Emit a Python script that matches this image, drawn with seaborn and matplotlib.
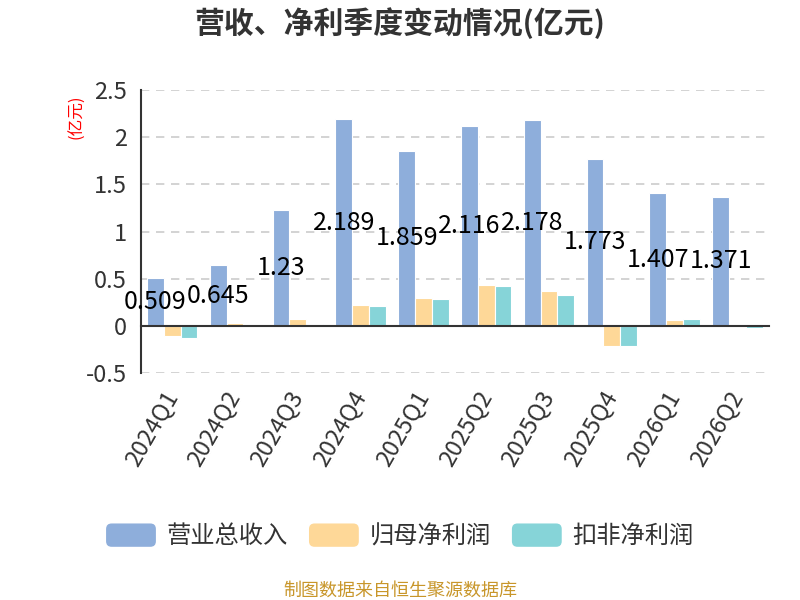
import matplotlib
matplotlib.use('Agg')
import matplotlib.pyplot as plt
import matplotlib.patches as mpatches
from matplotlib.legend_handler import HandlerPatch
from matplotlib.ticker import MultipleLocator, FixedLocator, FuncFormatter
import seaborn as sns
import pandas as pd

quarters = ['2024Q1', '2024Q2', '2024Q3', '2024Q4', '2025Q1',
            '2025Q2', '2025Q3', '2025Q4', '2026Q1', '2026Q2']
revenue = [0.509, 0.645, 1.23, 2.189, 1.859, 2.116, 2.178, 1.773, 1.407, 1.371]
net_profit = [-0.106, 0.03, 0.07, 0.226, 0.297, 0.434, 0.374, -0.215, 0.06, 0.005]
deducted_profit = [-0.13, 0.015, 0.02, 0.21, 0.29, 0.424, 0.328, -0.208, 0.07, -0.02]
series_names = ['营业总收入', '归母净利润', '扣非净利润']
colors = ['#8eaedb', '#fed898', '#86d4d8']

sns.set_style('white')
plt.rcParams['font.family'] = ['Noto Sans CJK SC', 'DejaVu Sans']
plt.rcParams['axes.unicode_minus'] = False


# rounded legend swatches
class RoundHandler(HandlerPatch):
    def create_artists(self, legend, orig_handle, xdescent, ydescent,
                       width, height, fontsize, trans):
        p = mpatches.FancyBboxPatch((-xdescent, -ydescent), width, height,
                                    boxstyle='round,pad=0,rounding_size=4',
                                    facecolor=orig_handle.get_facecolor(),
                                    edgecolor='none', transform=trans)
        return [p]


# long format for seaborn
df = pd.DataFrame({
    'quarter': quarters * 3,
    'series': [series_names[0]] * 10 + [series_names[1]] * 10 + [series_names[2]] * 10,
    'value': revenue + net_profit + deducted_profit,
})

fig = plt.figure(figsize=(8, 6), dpi=100)
ax = fig.add_axes([0.176, 0.378, 0.785, 0.472])

sns.barplot(data=df, x='quarter', y='value', hue='series', palette=colors,
            saturation=1, width=0.8, edgecolor='white', linewidth=0.8,
            ax=ax, legend=False)

ax.set_ylim(-0.5, 2.5)
ax.set_xlim(-0.5, len(quarters) - 0.5)
ax.yaxis.set_major_locator(MultipleLocator(0.5))
ax.yaxis.set_major_formatter(FuncFormatter(lambda v, p: f'{v:g}'))
ax.yaxis.grid(True, linestyle=(0, (5, 4)), color='#cccccc', linewidth=1.2)
ax.set_axisbelow(True)

# spines
for s in ['top', 'right']:
    ax.spines[s].set_visible(False)
ax.spines['left'].set_color('#333333')
ax.spines['left'].set_linewidth(1.5)
ax.spines['bottom'].set_position(('data', 0))
ax.spines['bottom'].set_color('#333333')
ax.spines['bottom'].set_linewidth(1.5)

ax.tick_params(axis='y', length=7, width=1.5, color='#333333',
               labelsize=17, labelcolor='#333333', pad=3)
# tick marks at group boundaries, labels at centers
ax.xaxis.set_minor_locator(FixedLocator([i - 0.5 for i in range(len(quarters) + 1)]))
ax.tick_params(axis='x', which='minor', length=6, width=1.5, color='#333333')
ax.tick_params(axis='x', which='major', length=0, pad=48, labelsize=17,
               labelcolor='#333333')
for lab in ax.get_xticklabels():
    lab.set_rotation(60)
    lab.set_ha('right')
    lab.set_va('center')
    lab.set_rotation_mode('anchor')
ax.set_xlabel('')
ax.set_ylabel('')

# revenue value labels at half the bar height
bar_w = 0.8 / 3
for i, v in enumerate(revenue):
    ax.text(i - bar_w, v / 2, f'{v:g}', ha='center', va='center',
            fontsize=18, color='black')

fig.text(0.096, 0.805, '(亿元)', rotation=90, color='red', fontsize=12,
         ha='center', va='center')
fig.suptitle('营收、净利季度变动情况(亿元)', y=0.962, fontsize=21.5,
             fontweight='bold', color='#333333', va='center')

handles = [mpatches.Patch(color=c) for c in colors]
fig.legend(handles, series_names, loc='center', bbox_to_anchor=(0.5, 0.106),
           ncol=3, frameon=False, fontsize=17.5, handlelength=2.05, handleheight=1.1,
           columnspacing=0.86, handletextpad=0.45, labelcolor='#333333',
           handler_map={mpatches.Patch: RoundHandler()})

fig.text(0.5, 0.016, '制图数据来自恒生聚源数据库', ha='center', va='center',
         fontsize=13, color='#c8962a')

fig.savefig('out.png', dpi=100)
